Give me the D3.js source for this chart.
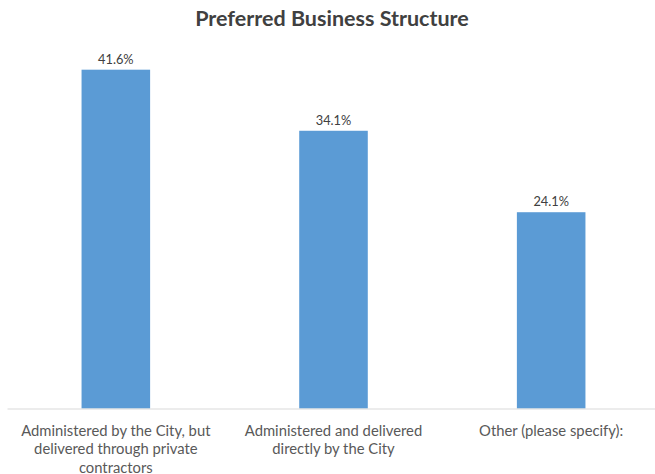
<!DOCTYPE html>
<html><head><meta charset="utf-8">
<script src="https://cdn.jsdelivr.net/npm/d3@7"></script>
<style>body{margin:0;background:#fff}svg{display:block}</style>
</head><body><svg id="c" width="655" height="474"></svg>
<script>
const title = "Preferred Business Structure";
const categories = ["Administered by the City, but delivered through private contractors","Administered and delivered directly by the City","Other (please specify):"];
const values = [41.6, 34.1, 24.1];
const valueLabels = ["41.6%","34.1%","24.1%"];
const yMax = 45;

const svg = d3.select("#c");
const font = "Lato, 'Open Sans', sans-serif";
const x = d3.scaleBand().domain(categories).range([7, 660]).paddingInner(0.685).paddingOuter(0.3425);
const y = d3.scaleLinear().domain([0, yMax]).range([408.5, 42]);

svg.append("text").attr("x", 332).attr("y", 26).attr("text-anchor","middle")
  .attr("font-family", font).attr("font-weight","bold").attr("font-size", 21.5).attr("fill","#404040").text(title);

svg.selectAll("rect.bar").data(values).join("rect").attr("class","bar")
  .attr("x",(d,i)=>x(categories[i])).attr("width",x.bandwidth())
  .attr("y",d=>y(d)).attr("height",d=>y(0)-y(d)).attr("fill","#5b9bd5");

svg.selectAll("text.val").data(values).join("text").attr("class","val")
  .attr("x",(d,i)=>x(categories[i])+x.bandwidth()/2).attr("y",d=>y(d)-6)
  .attr("text-anchor","middle").attr("font-family",font).attr("font-size",12.8).attr("fill","#404040")
  .text((d,i)=>valueLabels[i]);

const axis = d3.axisBottom(x).tickSize(0).tickPadding(0);
const g = svg.append("g").attr("transform",`translate(0,${y(0)})`).call(axis);
g.select(".domain").attr("stroke","#d9d9d9").attr("stroke-width",1);
g.selectAll(".tick text").remove();

// wrapped category labels
const maxW = 205;
categories.forEach(c=>{
  const t = svg.append("text").attr("text-anchor","middle").attr("font-family",font).attr("font-size",14.8).attr("fill","#595959");
  const cx = x(c)+x.bandwidth()/2;
  const words = c.split(" "); let line=[]; let lines=[];
  const tmp = t.append("tspan");
  words.forEach(w=>{
    line.push(w); tmp.text(line.join(" "));
    if (tmp.node().getComputedTextLength()>maxW && line.length>1){ line.pop(); lines.push(line.join(" ")); line=[w]; }
  });
  lines.push(line.join(" ")); tmp.remove();
  lines.forEach((l,i)=>t.append("tspan").attr("x",cx).attr("y",435.5+i*18.5).text(l));
});
</script></body></html>
